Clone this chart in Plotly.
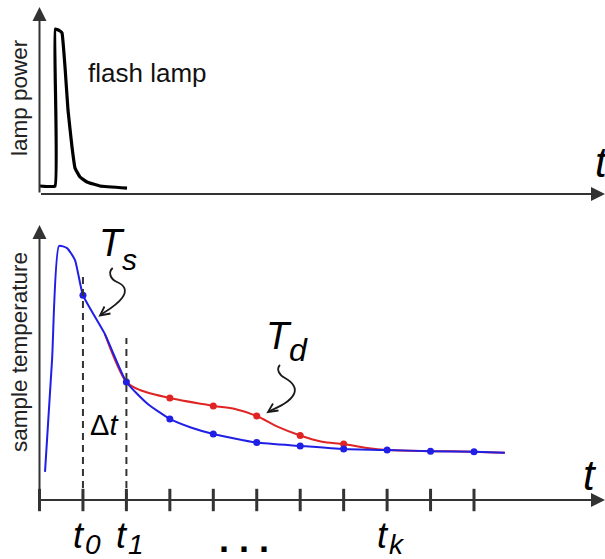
import plotly.graph_objects as go

# ---------------- data ----------------
# top panel: flash lamp pulse (time in sampling intervals, power in % of peak)
lamp_t = [0.0, 0.357, 0.364, 0.472, 0.518, 0.587, 0.656, 0.748, 0.817, 0.932, 1.093, 1.392, 2.014]
lamp_power = [4.85, 4.85, 100.0, 98.8, 97.6, 77.0, 50.9, 28.5, 15.8, 10.3, 7.3, 4.85, 3.6]

# bottom panel: sample temperature curve T_s (smooth line)
ts_curve_t = [0.127, 0.29, 0.449, 0.633, 0.817, 1.0, 1.5, 2.0, 2.5, 3.0, 3.5, 4.0, 5.0, 6.0, 7.0, 8.0, 9.0, 10.0, 10.71]
ts_curve_T = [10.8, 54.2, 97.7, 96.9, 92.3, 78.8, 64.0, 45.4, 36.8, 31.2, 27.8, 25.4, 22.1, 20.8, 19.6, 19.2, 18.8, 18.6, 18.2]

# disturbed temperature curve T_d (smooth line)
td_curve_t = [1.5, 2.0, 2.31, 3.0, 4.0, 4.5, 5.0, 5.49, 6.0, 6.5, 7.0, 7.54, 8.0, 9.0, 10.0, 10.71]
td_curve_T = [64.0, 45.4, 42.3, 39.2, 36.2, 35.0, 32.3, 28.1, 24.8, 22.4, 21.5, 20.0, 19.2, 18.8, 18.6, 18.2]

# sampled points
ts_dot_t = [1, 2, 3, 4, 5, 6, 7, 8, 9, 10]
ts_dot_T = [78.8, 45.4, 31.2, 25.4, 22.1, 20.8, 19.6, 19.2, 18.8, 18.6]
td_dot_t = [3, 4, 5, 6, 7]
td_dot_T = [39.2, 36.2, 32.3, 24.8, 21.5]

# time axis ticks and labels
tick_positions = [0, 1, 2, 3, 4, 5, 6, 7, 8, 9, 10]
tick_label_pos = [1, 2, 8]
tick_label_sub = ["0", "1", "k"]
dots_label_pos = 4.7

# ---------------- styling ----------------
AX = "#333333"
BLUE = "#1f1fe6"
RED = "#e02424"
FONT = "Liberation Sans, Arial, sans-serif"

X_RANGE = [-0.9091, 13.015]
Y_RANGE = [-22.69, 192.31]      # bottom panel (temperature)
Y2_RANGE = [-221.21, 117.58]    # top panel (lamp power)

fig = go.Figure()

# lamp pulse
fig.add_trace(go.Scatter(x=lamp_t, y=lamp_power, yaxis="y2", mode="lines",
                         line=dict(color="black", width=3.2, shape="spline", smoothing=0.3),
                         hoverinfo="skip"))

# tick marks on bottom time axis
fig.add_trace(go.Scatter(x=tick_positions, y=[0] * len(tick_positions), mode="markers",
                         marker=dict(symbol="line-ns", size=16, line=dict(color=AX, width=3)),
                         hoverinfo="skip"))

# T_d curve (under T_s)
fig.add_trace(go.Scatter(x=td_curve_t, y=td_curve_T, mode="lines",
                         line=dict(color=RED, width=2, shape="spline", smoothing=0.8),
                         hoverinfo="skip"))
# T_s curve
fig.add_trace(go.Scatter(x=ts_curve_t, y=ts_curve_T, mode="lines",
                         line=dict(color=BLUE, width=2, shape="spline", smoothing=0.5),
                         hoverinfo="skip"))
fig.add_trace(go.Scatter(x=td_dot_t, y=td_dot_T, mode="markers",
                         marker=dict(color=RED, size=7), hoverinfo="skip"))
fig.add_trace(go.Scatter(x=ts_dot_t, y=ts_dot_T, mode="markers",
                         marker=dict(color=BLUE, size=7), hoverinfo="skip"))

# ---------------- axes drawn as arrows ----------------
def axis_arrow(x0, y0, x1, y1, yref):
    fig.add_annotation(x=x1, y=y1, ax=x0, ay=y0, xref="x", yref=yref, axref="x", ayref=yref,
                       text="", showarrow=True, arrowhead=2, arrowsize=1.4, arrowwidth=2,
                       arrowcolor=AX, standoff=0, startstandoff=0)

axis_arrow(0, 0, X_RANGE[1], 0, "y2")       # top time axis
axis_arrow(0, 0, 0, 113.3, "y2")            # lamp power axis
axis_arrow(0, 0, X_RANGE[1], 0, "y")        # bottom time axis
axis_arrow(0, 0, 0, 105.8, "y")             # temperature axis

# dashed sampling markers at t0, t1
shapes = [
    dict(type="line", xref="x", yref="y", x0=tick_label_pos[0], x1=tick_label_pos[0], y0=0, y1=86.5,
         line=dict(color=AX, width=2, dash="7px,5px")),
    dict(type="line", xref="x", yref="y", x0=tick_label_pos[1], x1=tick_label_pos[1], y0=0, y1=62.3,
         line=dict(color=AX, width=2, dash="7px,5px")),
]

# curly pointer arrows (paper pixel path -> paper coords)
W, H = 605, 559
def ppath(cmds):
    out = []
    for c in cmds:
        if isinstance(c, str):
            out.append(c)
        else:
            out.append(f"{c[0] / W:.5f},{1 - c[1] / H:.5f}")
    return " ".join(out)

ts_ptr = ppath(["M", (112.7, 268), "C", (108, 272), (110, 279), (117, 282),
                "C", (124, 285), (128, 290), (122, 298),
                "C", (117, 305), (108, 310), (100.5, 315)])
ts_head = ppath(["M", (110.5, 313.5), "L", (100, 315.5), "L", (104.5, 306.5)])
td_ptr = ppath(["M", (280, 365), "C", (276, 369), (279, 375), (285, 378),
                "C", (292, 382), (297, 387), (294, 394),
                "C", (290, 402), (279, 407), (268.5, 411.5)])
td_head = ppath(["M", (278.5, 410.5), "L", (268, 412), "L", (273, 403.5)])
for p in (ts_ptr, ts_head, td_ptr, td_head):
    shapes.append(dict(type="path", xref="paper", yref="paper", path=p,
                       line=dict(color="#1a1a1a", width=1.8)))

# ---------------- text ----------------
def txt(x, y, s, size, xref="x", yref="y", angle=0, italic=False, color="black", bold=False):
    if italic:
        s = f"<i>{s}</i>"
    if bold:
        s = f"<b>{s}</b>"
    fig.add_annotation(x=x, y=y, xref=xref, yref=yref, text=s, showarrow=False, textangle=angle,
                       font=dict(family=FONT, size=size, color=color),
                       xanchor="center", yanchor="middle")

txt(-0.449, 58.8, "lamp power", 22.5, yref="y2", angle=-90, color="#222")
txt(2.474, 73.3, "flash lamp", 26, yref="y2", color="#111")
txt(-0.472, 56.9, "sample temperature", 22.5, angle=-90, color="#222")

# curve labels
txt(1.669, 98.8, "T", 38, italic=True)
txt(2.08, 92.4, "s", 30, italic=True)
txt(5.51, 62.9, "T", 38, italic=True)
txt(5.95, 57.7, "d", 32, italic=True)
txt(1.485, 28.8, "Δ<i>t</i>", 29)

# axis name "t"
txt(12.95, 19.0, "t", 42, italic=True, yref="y2")
txt(12.67, 9.6, "t", 42, italic=True)

# time tick labels
for pos, sub in zip(tick_label_pos, tick_label_sub):
    txt(pos - 0.1, -13.6, "t", 36, italic=True)
    txt(pos + 0.22, -17.2, sub, 28, italic=True)
txt(dots_label_pos, -15.2, ". . .", 36, bold=True)

fig.update_layout(
    width=W, height=H, margin=dict(l=0, r=0, t=0, b=0),
    paper_bgcolor="white", plot_bgcolor="white", showlegend=False,
    xaxis=dict(domain=[0, 1], range=X_RANGE, visible=False, fixedrange=True),
    yaxis=dict(domain=[0, 1], range=Y_RANGE, visible=False, fixedrange=True),
    yaxis2=dict(domain=[0, 1], range=Y2_RANGE, visible=False, overlaying="y", fixedrange=True),
    shapes=shapes, hovermode=False,
)

fig.write_html("out.html", config={"displayModeBar": False},
               post_script="document.body.style.margin='0px';document.body.style.overflow='hidden';")
